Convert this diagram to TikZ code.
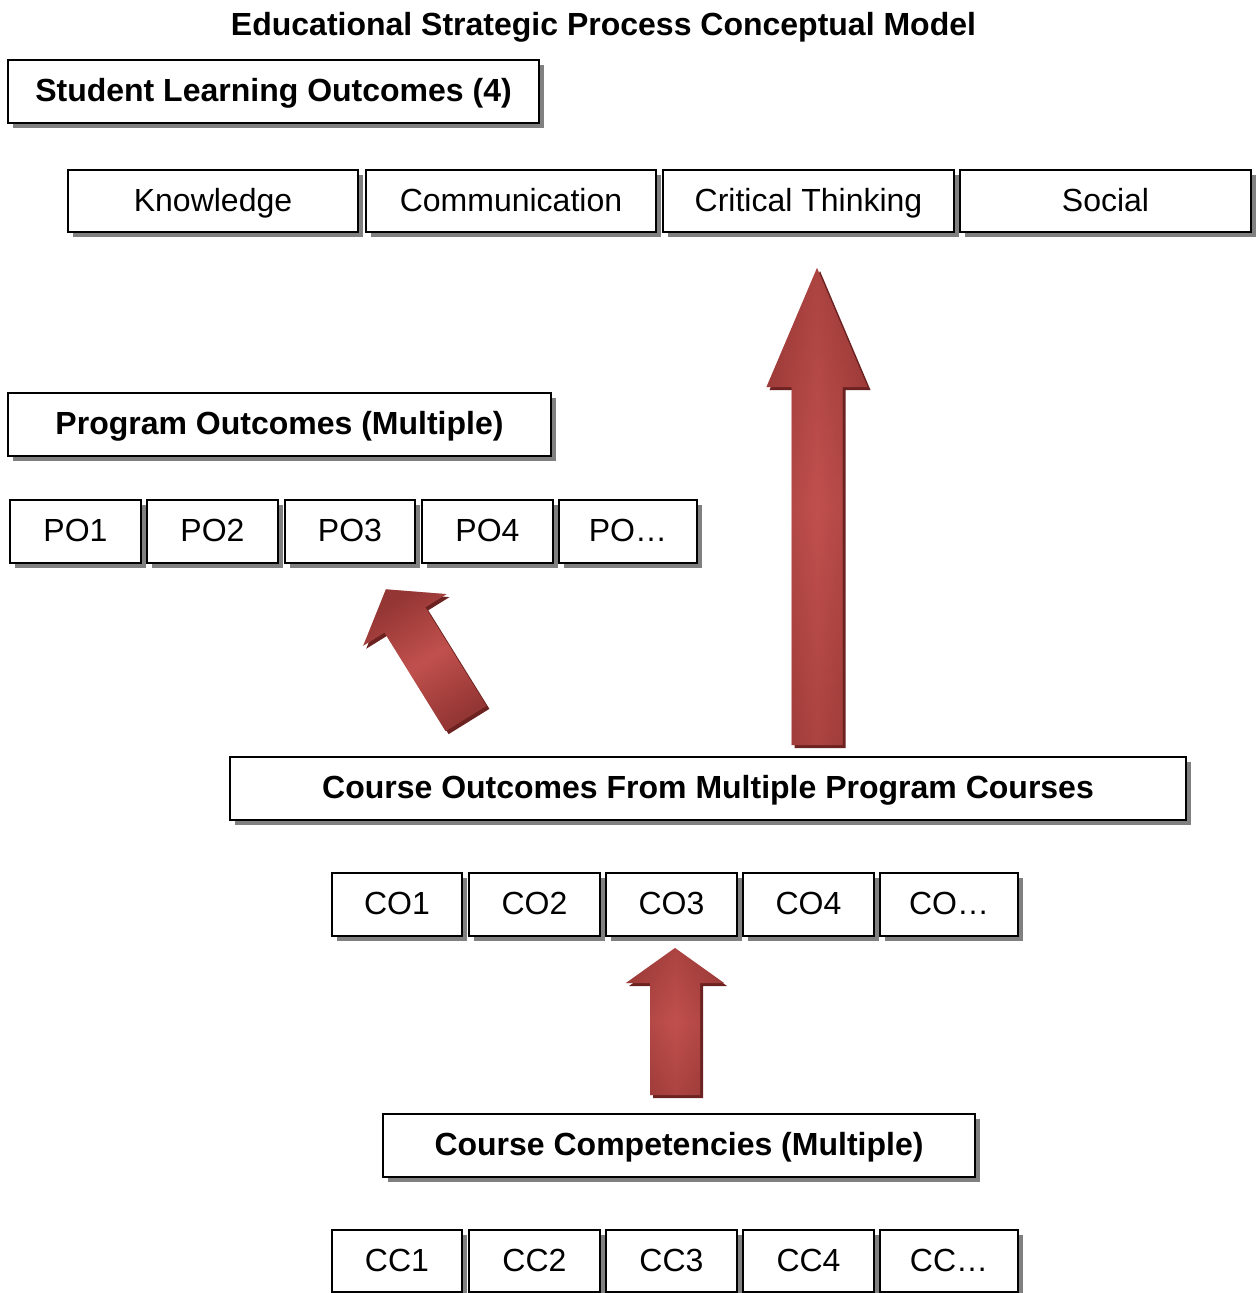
\documentclass[tikz,border=0pt]{standalone}
\usepackage{fontspec}
\setmainfont{Liberation Sans}
\usetikzlibrary{shadows}
\definecolor{arrowlight}{HTML}{C0504D}
\definecolor{arrowdark}{HTML}{943634}
\definecolor{arrowshadow}{HTML}{6B2220}
\definecolor{boxshadow}{HTML}{808080}
\newcommand{\arrowpath}[4]{(-#3,0) -- (-#3,{-(#1-#2)}) -- (-#4,{-(#1-#2)}) -- (0,-#1) -- (#4,{-(#1-#2)}) -- (#3,{-(#1-#2)}) -- (#3,0) -- cycle}
\begin{document}
\begin{tikzpicture}[x=1pt,y=-1pt,
  box/.style={draw=black, line width=2pt, fill=white, inner sep=0pt,
    font=\fontsize{32}{38}\selectfont, text height=23.2pt, text depth=2.7pt,
    drop shadow={shadow xshift=5pt, shadow yshift=-5pt, fill=boxshadow, opacity=1, draw=none}},
  headbox/.style={box, font=\fontsize{32}{38}\selectfont\bfseries},
  smallbox/.style={box, minimum height=63pt},
  arrowbody/.style={left color=arrowdark, right color=arrowdark, middle color=arrowlight},
  arrowends/.style={top color=arrowdark, bottom color=arrowdark, middle color=arrowlight, opacity=0.45},
  arrowshade/.style={fill=arrowshadow}
]
\useasboundingbox (0,0) rectangle (1259,1293);

\node[font=\fontsize{32}{38}\selectfont\bfseries, text height=23.2pt, text depth=2.7pt] (title) at (603.5,25) {Educational Strategic Process Conceptual Model};

% Student Learning Outcomes
\node[headbox, minimum width=531pt, minimum height=63pt] (slo) at (273.5,91.5) {Student Learning Outcomes (4)};
\node[smallbox, minimum width=290pt, minimum height=62pt] (know) at (213,201) {Knowledge};
\node[smallbox, minimum width=290pt, minimum height=62pt] (comm) at (511,201) {Communication};
\node[smallbox, minimum width=291pt, minimum height=62pt] (crit) at (808.5,201) {Critical Thinking};
\node[smallbox, minimum width=291pt, minimum height=62pt] (soc) at (1105.5,201) {Social};

% Program Outcomes
\node[headbox, minimum width=543pt, minimum height=63pt] (po) at (279.5,424.5) {Program Outcomes (Multiple)};
\node[smallbox, minimum width=131pt] (po1) at (75.5,531.5) {PO1};
\node[smallbox, minimum width=131pt] (po2) at (212.5,531.5) {PO2};
\node[smallbox, minimum width=130pt] (po3) at (350,531.5) {PO3};
\node[smallbox, minimum width=131pt] (po4) at (487.5,531.5) {PO4};
\node[smallbox, minimum width=138pt] (pox) at (628,531.5) {PO…};

% Course Outcomes
\node[headbox, minimum width=956pt, minimum height=63pt] (co) at (708,788.5) {Course Outcomes From Multiple Program Courses};
\node[smallbox, minimum width=130pt] (co1) at (397,904.5) {CO1};
\node[smallbox, minimum width=131pt] (co2) at (534.5,904.5) {CO2};
\node[smallbox, minimum width=131pt] (co3) at (671.5,904.5) {CO3};
\node[smallbox, minimum width=131pt] (co4) at (808.5,904.5) {CO4};
\node[smallbox, minimum width=138pt] (cox) at (949,904.5) {CO…};

% Course Competencies
\node[headbox, minimum width=592pt, minimum height=63pt] (cc) at (679,1145.5) {Course Competencies (Multiple)};
\node[smallbox, minimum width=130pt, minimum height=62pt] (cc1) at (397,1261) {CC1};
\node[smallbox, minimum width=131pt, minimum height=62pt] (cc2) at (534.5,1261) {CC2};
\node[smallbox, minimum width=131pt, minimum height=62pt] (cc3) at (671.5,1261) {CC3};
\node[smallbox, minimum width=131pt, minimum height=62pt] (cc4) at (808.5,1261) {CC4};
\node[smallbox, minimum width=138pt, minimum height=62pt] (ccx) at (949,1261) {CC…};

% Big arrow (course outcomes -> SLO)
\begin{scope}[xshift=3pt, yshift=-3pt, shift={(817,745)}]
  \fill[arrowshade] \arrowpath{477}{119}{25.5}{50.5};
\end{scope}
\begin{scope}[shift={(817,745)}]
  \shade[arrowbody] \arrowpath{477}{119}{25.5}{50.5};
  \shade[arrowends] \arrowpath{477}{119}{25.5}{50.5};
\end{scope}

% Small arrow (competencies -> course outcomes)
\begin{scope}[xshift=3pt, yshift=-3pt, shift={(675,1095)}]
  \fill[arrowshade] \arrowpath{147}{35}{25}{49};
\end{scope}
\begin{scope}[shift={(675,1095)}]
  \shade[arrowbody] \arrowpath{147}{35}{25}{49};
  \shade[arrowends] \arrowpath{147}{35}{25}{49};
\end{scope}

% Diagonal arrow (course outcomes -> program outcomes)
\begin{scope}[xshift=3pt, yshift=-3pt, shift={(466,718.5)}, rotate=31.8]
  \fill[arrowshade] \arrowpath{152}{36}{24}{49};
\end{scope}
\begin{scope}[shift={(466,718.5)}, rotate=31.8]
  \shade[arrowbody, shading angle=31.8] \arrowpath{152}{36}{24}{49};
  \shade[arrowends, shading angle=31.8] \arrowpath{152}{36}{24}{49};
\end{scope}
\end{tikzpicture}
\end{document}
